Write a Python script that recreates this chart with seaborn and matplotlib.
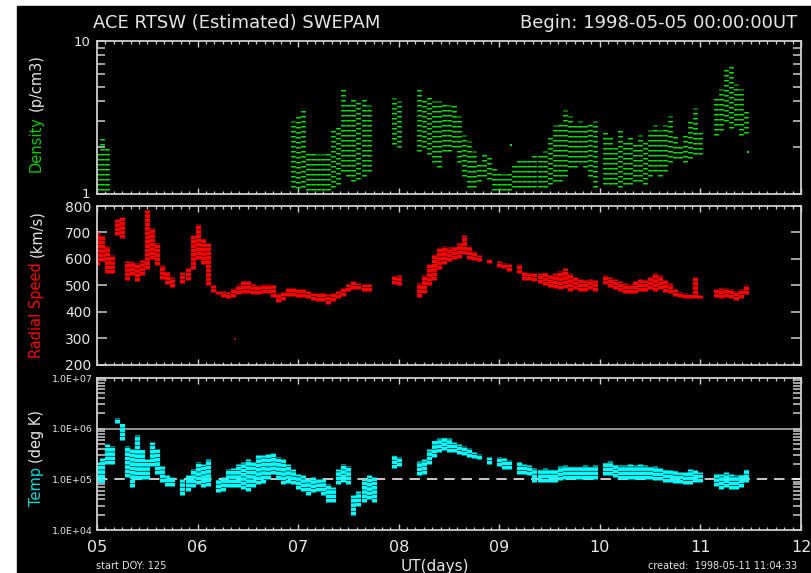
import numpy as np
import pandas as pd
import matplotlib
matplotlib.use("Agg")
import matplotlib.pyplot as plt
import seaborn as sns
from matplotlib.patches import Rectangle
from matplotlib.ticker import FixedLocator, NullFormatter, FixedFormatter

nan = float("nan")

# ---------------- data ----------------
DAYS = [
    5.00, 5.05, 5.10, 5.15, 5.20, 5.25, 5.30, 5.35, 5.40, 5.45, 5.50, 5.55, 5.60, 5.65, 5.70, 5.75, 5.80, 5.85, 5.90, 5.95,
    6.00, 6.05, 6.10, 6.15, 6.20, 6.25, 6.30, 6.35, 6.40, 6.45, 6.50, 6.55, 6.60, 6.65, 6.70, 6.75, 6.80, 6.85, 6.90, 6.95,
    7.00, 7.05, 7.10, 7.15, 7.20, 7.25, 7.30, 7.35, 7.40, 7.45, 7.50, 7.55, 7.60, 7.65, 7.70, 7.75, 7.80, 7.85, 7.90, 7.95,
    8.00, 8.05, 8.10, 8.15, 8.20, 8.25, 8.30, 8.35, 8.40, 8.45, 8.50, 8.55, 8.60, 8.65, 8.70, 8.75, 8.80, 8.85, 8.90, 8.95,
    9.00, 9.05, 9.10, 9.15, 9.20, 9.25, 9.30, 9.35, 9.40, 9.45, 9.50, 9.55, 9.60, 9.65, 9.70, 9.75, 9.80, 9.85, 9.90, 9.95,
    10.00, 10.05, 10.10, 10.15, 10.20, 10.25, 10.30, 10.35, 10.40, 10.45, 10.50, 10.55, 10.60, 10.65, 10.70, 10.75, 10.80, 10.85, 10.90, 10.95,
    11.00, 11.05, 11.10, 11.15, 11.20, 11.25, 11.30, 11.35, 11.40, 11.45,
]

DENS_LO = [
    1.05, 1.05, 1.05, nan, nan, nan, nan, nan, nan, nan, nan, nan, nan, nan, nan, nan, nan, nan, nan, nan,
    nan, nan, nan, nan, nan, nan, nan, nan, nan, nan, nan, nan, nan, nan, nan, nan, nan, nan, nan, 1.1,
    1.08, 1.1, 1.05, 1.05, 1.05, 1.05, 1.05, 1.1, 1.15, 1.4, 1.3, 1.2, 1.25, 1.3, 1.4, nan, nan, nan, nan, 2.1,
    2.0, nan, nan, nan, 1.9, 2.0, 1.8, 1.6, 1.5, 1.9, 1.9, 2.0, 1.6, 1.3, 1.1, 1.1, 1.2, 1.3, 1.25, 1.05,
    1.05, 1.05, 1.05, 1.1, 1.1, 1.1, 1.1, 1.1, 1.1, 1.1, 1.15, 1.2, 1.2, 1.3, 1.5, 1.5, 1.6, 1.5, 1.3, 1.1,
    nan, 1.15, 1.15, 1.15, 1.1, 1.15, 1.15, 1.2, 1.2, 1.15, 1.3, 1.4, 1.3, 1.4, 1.6, 1.7, 1.7, 1.6, 1.7, 1.8,
    1.8, nan, nan, 2.4, 2.6, 3.0, 2.7, 2.8, 2.4, 2.5,
]
DENS_HI = [
    1.9, 2.4, 2.0, nan, nan, nan, nan, nan, nan, nan, nan, nan, nan, nan, nan, nan, nan, nan, nan, nan,
    nan, nan, nan, nan, nan, nan, nan, nan, nan, nan, nan, nan, nan, nan, nan, nan, nan, nan, nan, 3.0,
    3.2, 3.7, 1.9, 1.9, 1.8, 1.8, 1.9, 2.7, 2.8, 5.0, 4.0, 4.2, 4.0, 4.2, 3.8, nan, nan, nan, nan, 4.2,
    4.0, nan, nan, nan, 5.0, 4.3, 4.5, 4.0, 4.0, 4.0, 3.8, 3.8, 3.2, 2.4, 2.2, 1.9, 1.6, 1.8, 1.8, 1.5,
    1.4, 1.35, 1.4, 1.6, 1.7, 1.7, 1.7, 1.8, 1.8, 1.9, 2.4, 2.8, 3.0, 3.5, 3.2, 2.9, 3.0, 2.8, 3.0, 3.0,
    nan, 2.6, 2.4, 2.0, 2.7, 2.2, 2.4, 2.2, 2.4, 2.2, 2.6, 2.8, 2.6, 2.8, 3.2, 2.4, 2.1, 2.4, 3.1, 3.6,
    2.6, nan, nan, 4.2, 4.8, 6.5, 7.0, 5.2, 4.8, 3.5,
]

SPD_LO = [
    575, 590, 545, 545, 690, 680, 520, 540, 515, 540, 560, 600, 575, 525, 505, 495, nan, 510, 520, 560,
    600, 580, 500, 475, 465, 455, 450, 455, 465, 470, 470, 465, 465, 470, 470, 455, 435, 445, 460, 460,
    455, 455, 450, 445, 440, 440, 430, 440, 450, 460, 480, 485, 485, 480, 480, nan, nan, nan, nan, 505,
    500, nan, nan, nan, 455, 470, 500, 520, 560, 580, 590, 600, 605, 620, 600, 595, 590, nan, 585, nan,
    570, 565, 555, nan, 545, 520, 520, 515, 510, 500, 495, 490, 485, 490, 480, 485, 480, 480, 485, 480,
    nan, 505, 495, 485, 480, 470, 470, 470, 480, 480, 485, 480, 485, 475, 470, 460, 455, 450, 450, 450,
    450, nan, nan, 455, 450, 455, 450, 445, 450, 465,
]
SPD_HI = [
    700, 690, 650, 615, 750, 760, 590, 590, 585, 595, 785, 715, 660, 575, 555, 530, nan, 550, 565, 690,
    730, 680, 660, 500, 480, 480, 475, 490, 500, 515, 515, 505, 500, 505, 505, 500, 470, 475, 490, 490,
    485, 485, 480, 470, 470, 470, 465, 470, 480, 490, 505, 515, 510, 505, 505, nan, nan, nan, nan, 535,
    540, nan, nan, nan, 510, 540, 580, 620, 640, 650, 645, 650, 660, 690, 650, 630, 615, nan, 600, nan,
    590, 585, 580, nan, 580, 550, 545, 545, 545, 550, 540, 545, 555, 565, 545, 530, 525, 520, 525, 520,
    nan, 540, 530, 525, 515, 510, 505, 515, 525, 520, 530, 545, 540, 520, 510, 485, 475, 470, 465, 530,
    462, nan, nan, 485, 490, 490, 485, 480, 485, 500,
]

TEMP_LO = [
    8.7e4, 9.0e4, 2.0e5, 2.0e5, 1.3e6, 6.0e5, 1.1e5, 7.0e4, 1.0e5, 1.0e5, 1.0e5, 1.8e5, 1.3e5, 9.0e4, 7.5e4, 7.5e4, nan, 5.0e4, 6.0e4, 7.0e4,
    8.0e4, 7.0e4, 7.5e4, nan, 5.5e4, 6.0e4, 7.0e4, 7.0e4, 7.0e4, 6.5e4, 6.0e4, 7.0e4, 8.0e4, 8.5e4, 1.0e5, 1.3e5, 1.0e5, 8.0e4, 8.5e4, 8.0e4,
    6.5e4, 6.0e4, 5.0e4, 5.5e4, 6.0e4, 5.0e4, 3.5e4, 3.5e4, 8.0e4, 9.0e4, 8.0e4, 2.0e4, 3.0e4, 3.5e4, 4.0e4, 3.5e4, nan, nan, nan, 1.7e5,
    1.8e5, nan, nan, nan, 1.2e5, 1.3e5, 2.0e5, 2.8e5, 3.5e5, 3.8e5, 3.5e5, 3.5e5, 3.2e5, 3.0e5, 2.8e5, 2.6e5, 2.5e5, nan, 2.0e5, nan,
    1.8e5, 1.6e5, 1.6e5, nan, 1.3e5, 1.3e5, 1.2e5, 9.0e4, 9.0e4, 9.0e4, 9.0e4, 9.0e4, 9.5e4, 1.0e5, 1.0e5, 1.0e5, 1.0e5, 1.0e5, 1.0e5, 1.0e5,
    nan, 1.2e5, 1.2e5, 1.1e5, 1.0e5, 1.0e5, 1.0e5, 1.0e5, 1.0e5, 1.0e5, 1.0e5, 9.5e4, 9.5e4, 9.0e4, 9.0e4, 8.5e4, 8.5e4, 8.0e4, 8.0e4, 9.0e4,
    9.0e4, nan, nan, 7.5e4, 6.5e4, 7.0e4, 6.5e4, 6.5e4, 7.0e4, 9.0e4,
]
TEMP_HI = [
    2.2e5, 2.6e5, 5.0e5, 4.5e5, 1.6e6, 1.3e6, 4.5e5, 4.0e5, 7.5e5, 4.0e5, 2.5e5, 5.5e5, 4.0e5, 1.8e5, 1.2e5, 1.1e5, nan, 1.0e5, 1.2e5, 1.6e5,
    2.2e5, 2.0e5, 2.5e5, nan, 1.0e5, 1.1e5, 1.6e5, 1.7e5, 2.0e5, 2.2e5, 2.5e5, 2.2e5, 3.0e5, 3.0e5, 3.2e5, 3.3e5, 2.8e5, 2.5e5, 2.0e5, 1.6e5,
    1.3e5, 1.2e5, 1.0e5, 1.1e5, 1.0e5, 1.0e5, 8.0e4, 7.0e4, 1.6e5, 2.0e5, 1.8e5, 5.0e4, 6.0e4, 1.0e5, 1.2e5, 1.1e5, nan, nan, nan, 3.0e5,
    2.8e5, nan, nan, nan, 2.3e5, 2.5e5, 4.0e5, 6.0e5, 6.5e5, 7.0e5, 6.5e5, 5.5e5, 5.0e5, 4.5e5, 4.2e5, 3.5e5, 3.2e5, nan, 2.8e5, nan,
    2.7e5, 2.6e5, 2.4e5, nan, 2.2e5, 2.0e5, 1.9e5, 1.7e5, 1.6e5, 1.7e5, 1.6e5, 1.6e5, 1.8e5, 1.9e5, 1.8e5, 1.8e5, 1.8e5, 1.9e5, 1.8e5, 1.9e5,
    nan, 2.2e5, 2.3e5, 2.0e5, 1.9e5, 1.9e5, 2.0e5, 1.9e5, 2.0e5, 1.9e5, 1.8e5, 1.8e5, 1.7e5, 1.6e5, 1.5e5, 1.5e5, 1.4e5, 1.4e5, 1.6e5, 1.5e5,
    1.4e5, nan, nan, 1.3e5, 1.3e5, 1.4e5, 1.3e5, 1.2e5, 1.3e5, 1.6e5,
]

# isolated points
SPD_OUT_DAY = [6.37]
SPD_OUT_VAL = [295]
DENS_OUT_DAY = [9.12, 11.47]
DENS_OUT_VAL = [2.08, 1.88]

X_TICKS = [5, 6, 7, 8, 9, 10, 11, 12]
X_TICK_LABELS = ["05", "06", "07", "08", "09", "10", "11", "12"]
DENS_TICKS = [1, 10]
DENS_TICK_LABELS = ["1", "10"]
SPD_TICKS = [200, 300, 400, 500, 600, 700, 800]
SPD_TICK_LABELS = ["200", "300", "400", "500", "600", "700", "800"]
TEMP_TICKS = [1e4, 1e5, 1e6, 1e7]
TEMP_TICK_LABELS = ["1.0E+04", "1.0E+05", "1.0E+06", "1.0E+07"]
TEMP_REF_SOLID = 1e6
TEMP_REF_DASHED = 1e5

for arr in (DENS_LO, DENS_HI, SPD_LO, SPD_HI, TEMP_LO, TEMP_HI):
    assert len(arr) == len(DAYS), len(arr)

# ---------------- style ----------------
FG = "#cfcfcf"
sns.set_style("dark", rc={
    "axes.facecolor": "black",
    "figure.facecolor": "white",
    "axes.edgecolor": FG,
    "axes.grid": False,
    "xtick.color": FG,
    "ytick.color": FG,
})
plt.rcParams["font.family"] = ["DejaVu Sans"]
plt.rcParams["lines.scale_dashes"] = False

W, H = 811, 573
fig = plt.figure(figsize=(W / 100, H / 100), dpi=100)
fig.add_artist(Rectangle((17 / W, 0), (W - 17) / W, (H - 6) / H,
                         transform=fig.transFigure, color="black", zorder=-10))


def ax_at(left, top, right, bottom):
    return fig.add_axes([left / W, 1 - bottom / H, (right - left) / W, (bottom - top) / H])


ax1 = ax_at(97, 40.5, 801, 193.5)
ax2 = ax_at(97, 206, 801, 364.5)
ax3 = ax_at(97, 378, 801, 530)
ax1.set_yscale("log")
ax3.set_yscale("log")


def band(ax, lo, hi, color, lw, ls="-"):
    df = pd.DataFrame({"day": DAYS + DAYS, "value": list(lo) + list(hi)}).dropna()
    sns.lineplot(data=df, x="day", y="value", units="day", estimator=None,
                 color=color, linewidth=lw, linestyle=ls, ax=ax, legend=False,
                 solid_capstyle="butt", dash_capstyle="butt")


band(ax1, DENS_LO, DENS_HI, "#00e600", 3.4, (0, (1.1, 2.5)))
sns.scatterplot(x=DENS_OUT_DAY, y=DENS_OUT_VAL, ax=ax1, color="#00e600",
                marker="s", s=4, linewidth=0, legend=False)
band(ax2, SPD_LO, SPD_HI, "#ff0000", 3.7, (0, (2.6, 0.5)))
sns.scatterplot(x=SPD_OUT_DAY, y=SPD_OUT_VAL, ax=ax2, color="#c00000",
                marker="s", s=4, linewidth=0, legend=False)
ax3.axhline(TEMP_REF_SOLID, color="#bdbdbd", lw=1.1, zorder=1)
ax3.axhline(TEMP_REF_DASHED, color="white", lw=1.1, dashes=(7.5, 5), zorder=1)
band(ax3, TEMP_LO, TEMP_HI, "#00ffff", 3.7, (0, (2.6, 0.5)))

minor_x = [5 + k / 12 for k in range(0, 85)]
for ax in (ax1, ax2, ax3):
    ax.set_xlabel("")
    ax.set_ylabel("")
    ax.set_xlim(5, 12)
    ax.xaxis.set_major_locator(FixedLocator(X_TICKS))
    ax.xaxis.set_minor_locator(FixedLocator(minor_x))
    ax.tick_params(axis="x", which="major", direction="in", top=True, bottom=True,
                   length=4.2, width=1.0, color=FG)
    ax.tick_params(axis="x", which="minor", direction="in", top=True, bottom=True,
                   length=2.2, width=0.9, color=FG)
    ax.tick_params(axis="y", which="both", direction="in", left=True, right=True,
                   width=1.1, color=FG)
    for sp in ax.spines.values():
        sp.set_color(FG)
        sp.set_linewidth(1.3)
    if ax is not ax3:
        ax.xaxis.set_major_formatter(NullFormatter())

ax3.xaxis.set_major_formatter(FixedFormatter(X_TICK_LABELS))
ax3.tick_params(axis="x", which="major", labelsize=11.5, labelcolor="#e8e8e8", pad=7)

ax1.set_ylim(1, 10)
ax1.yaxis.set_major_locator(FixedLocator(DENS_TICKS))
ax1.yaxis.set_major_formatter(FixedFormatter(DENS_TICK_LABELS))
ax1.yaxis.set_minor_locator(FixedLocator([2, 3, 4, 5, 6, 7, 8, 9]))
ax1.yaxis.set_minor_formatter(NullFormatter())
ax1.tick_params(axis="y", which="both", length=6, labelsize=9.5, labelcolor="#e8e8e8", pad=5)

ax2.set_ylim(200, 800)
ax2.yaxis.set_major_locator(FixedLocator(SPD_TICKS))
ax2.yaxis.set_major_formatter(FixedFormatter(SPD_TICK_LABELS))
ax2.yaxis.set_minor_locator(FixedLocator([]))
ax2.tick_params(axis="y", which="major", length=7.5, labelsize=10, labelcolor="#e8e8e8", pad=4)

ax3.set_ylim(1e4, 1e7)
ax3.yaxis.set_major_locator(FixedLocator(TEMP_TICKS))
ax3.yaxis.set_major_formatter(FixedFormatter(TEMP_TICK_LABELS))
ax3.yaxis.set_minor_locator(FixedLocator([m * d for d in (1e4, 1e5, 1e6) for m in range(2, 10)]))
ax3.yaxis.set_minor_formatter(NullFormatter())
ax3.tick_params(axis="y", which="major", length=6, labelsize=6.8, labelcolor="#e8e8e8", pad=3)
ax3.tick_params(axis="y", which="minor", length=5.5)

# ---------------- texts ----------------
TXT = "#e6e6e6"
fig.text(93 / W, 1 - 23 / H, "ACE RTSW (Estimated) SWEPAM", ha="left", va="center",
         fontsize=13, color=TXT)
fig.text(797 / W, 1 - 23 / H, "Begin: 1998-05-05 00:00:00UT", ha="right", va="center",
         fontsize=13, color=TXT)
fig.text(435 / W, 1 - 566 / H, "UT(days)", ha="center", va="center", fontsize=11, color=TXT)
fig.text(96 / W, 1 - 566 / H, "start DOY: 125", ha="left", va="center", fontsize=7, color=TXT)
fig.text(797 / W, 1 - 566 / H, "created:  1998-05-11 11:04:33", ha="right", va="center",
         fontsize=7, color=TXT)


def ylabel2(x_px, yc_px, parts, size=10.5):
    texts = [fig.text(0, 0, s, color=c, rotation=90, ha="center", va="bottom", fontsize=size)
             for s, c in parts]
    fig.canvas.draw()
    r = fig.canvas.get_renderer()
    hs = [t.get_window_extent(r).height for t in texts]
    gap = size * 0.45
    total = sum(hs) + gap * (len(hs) - 1)
    y = (H - yc_px) - total / 2
    for t, h in zip(texts, hs):
        t.set_position((x_px / W, y / H))
        y += h + gap


ylabel2(36, 113, [("Density", "#00d000"), ("(p/cm3)", TXT)])
ylabel2(37, 284, [("Radial Speed", "#ff0000"), ("(km/s)", TXT)])
ylabel2(37, 458, [("Temp", "#00e0e0"), ("(deg K)", TXT)])

fig.savefig("out.png", dpi=100, facecolor="white")
